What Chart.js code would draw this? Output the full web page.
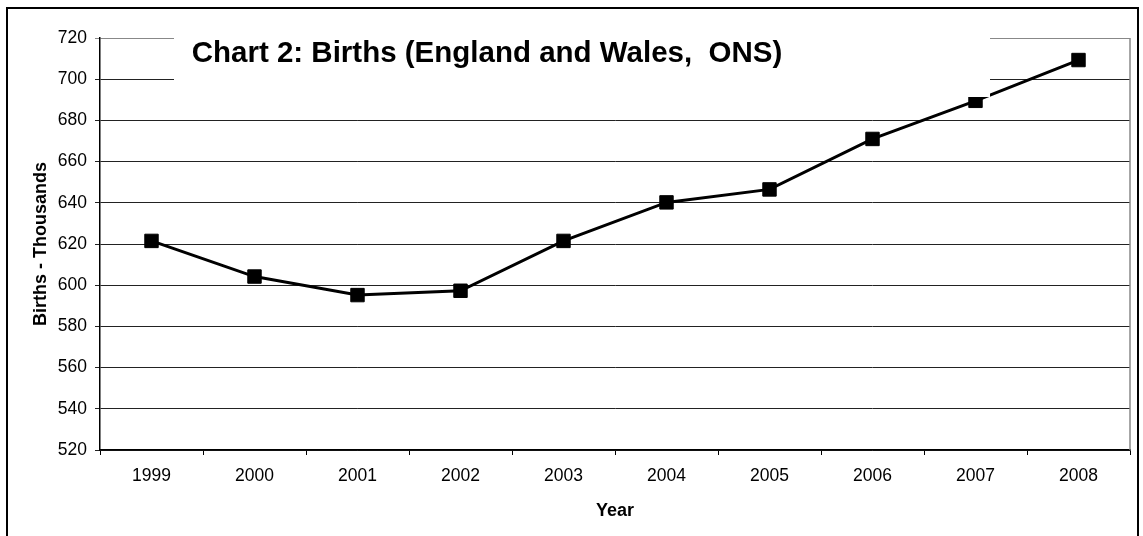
<!DOCTYPE html>
<html>
<head>
<meta charset="utf-8">
<title>Chart 2: Births</title>
<script src="https://cdn.jsdelivr.net/npm/chart.js@4.4.1/dist/chart.umd.min.js"></script>
<style>
    html, body { margin: 0; padding: 0; background: #fff; }
    #wrap { width: 1143px; height: 536px; }
</style>
</head>
<body>
<div id="wrap"><canvas id="birthsChart" width="1143" height="536"></canvas></div>
<script>
// data (thousands of births)
const years = ["1999", "2000", "2001", "2002", "2003", "2004", "2005", "2006", "2007", "2008"];
const births = [621.5, 604.2, 595.2, 597.3, 621.5, 640.2, 646.5, 671, 689.5, 709.3];
const yTicks = [520, 540, 560, 580, 600, 620, 640, 660, 680, 700, 720];

const chartTitle = "Chart 2: Births (England and Wales,  ONS)";
const FONT = "'Liberation Sans', Arial, sans-serif";

// frame, right border of plot and the boxed title
const decorations = {
    id: "decorations",
    afterDatasetsDraw(chart) {
        const ctx = chart.ctx;
        const area = chart.chartArea;
        ctx.save();
        // right plot border (grey)
        ctx.strokeStyle = "#888";
        ctx.lineWidth = 1.5;
        ctx.beginPath();
        ctx.moveTo(area.right, area.top);
        ctx.lineTo(area.right, area.bottom);
        ctx.stroke();
        // title box covering the grid
        ctx.fillStyle = "#fff";
        ctx.fillRect(174, 20, 816, 77);
        ctx.fillStyle = "#000";
        ctx.font = "bold 29.5px " + FONT;
        ctx.textAlign = "center";
        ctx.textBaseline = "alphabetic";
        ctx.fillText(chartTitle, 487, 62);
        ctx.restore();
    },
    afterDraw(chart) {
        const ctx = chart.ctx;
        ctx.save();
        ctx.strokeStyle = "#000";
        ctx.lineWidth = 2;
        ctx.strokeRect(7, 8, 1131, 545);
        ctx.restore();
    }
};

const ctx = document.getElementById("birthsChart").getContext("2d");
Chart.defaults.color = "#000";
Chart.defaults.font.family = FONT;

new Chart(ctx, {
    type: "line",
    data: {
        labels: years,
        datasets: [{
            label: "Births",
            data: births,
            borderColor: "#000",
            backgroundColor: "#000",
            borderWidth: 3,
            pointStyle: "rect",
            pointRadius: 9.5,
            pointBorderWidth: 1,
            pointBorderColor: "#000",
            pointBackgroundColor: "#000",
            tension: 0
        }]
    },
    options: {
        responsive: false,
        animation: false,
        devicePixelRatio: 1,
        layout: { padding: { left: 0, right: 13, top: 38, bottom: 0 } },
        plugins: {
            legend: { display: false },
            title: { display: false },
            tooltip: { enabled: false }
        },
        scales: {
            x: {
                type: "category",
                offset: true,
                grid: {
                    offset: true,
                    drawOnChartArea: false,
                    drawTicks: true,
                    tickLength: 5,
                    color: "#000"
                },
                border: { color: "#000", width: 1.5 },
                ticks: {
                    font: { size: 17.5 },
                    padding: 11,
                    maxRotation: 0
                },
                title: {
                    display: true,
                    text: "Year",
                    font: { size: 18, weight: "bold" },
                    padding: { top: 0, bottom: 14 }
                },
                afterFit(scale) { scale.height = 86; }
            },
            y: {
                min: 520,
                max: 720,
                afterBuildTicks(scale) { scale.ticks = yTicks.map(v => ({ value: v })); },
                grid: {
                    color: c => (c.tick && c.tick.value === 720) ? "#888" : "#222",
                    lineWidth: 1,
                    tickLength: 5,
                    drawTicks: true
                },
                border: { color: "#000", width: 1.5 },
                ticks: {
                    font: { size: 17.5 },
                    padding: 8
                },
                title: {
                    display: true,
                    text: "Births - Thousands",
                    font: { size: 18, weight: "bold" },
                    padding: { top: 30, bottom: 0 }
                },
                afterFit(scale) { scale.width = 100; }
            }
        }
    },
    plugins: [decorations]
});
</script>
</body>
</html>
